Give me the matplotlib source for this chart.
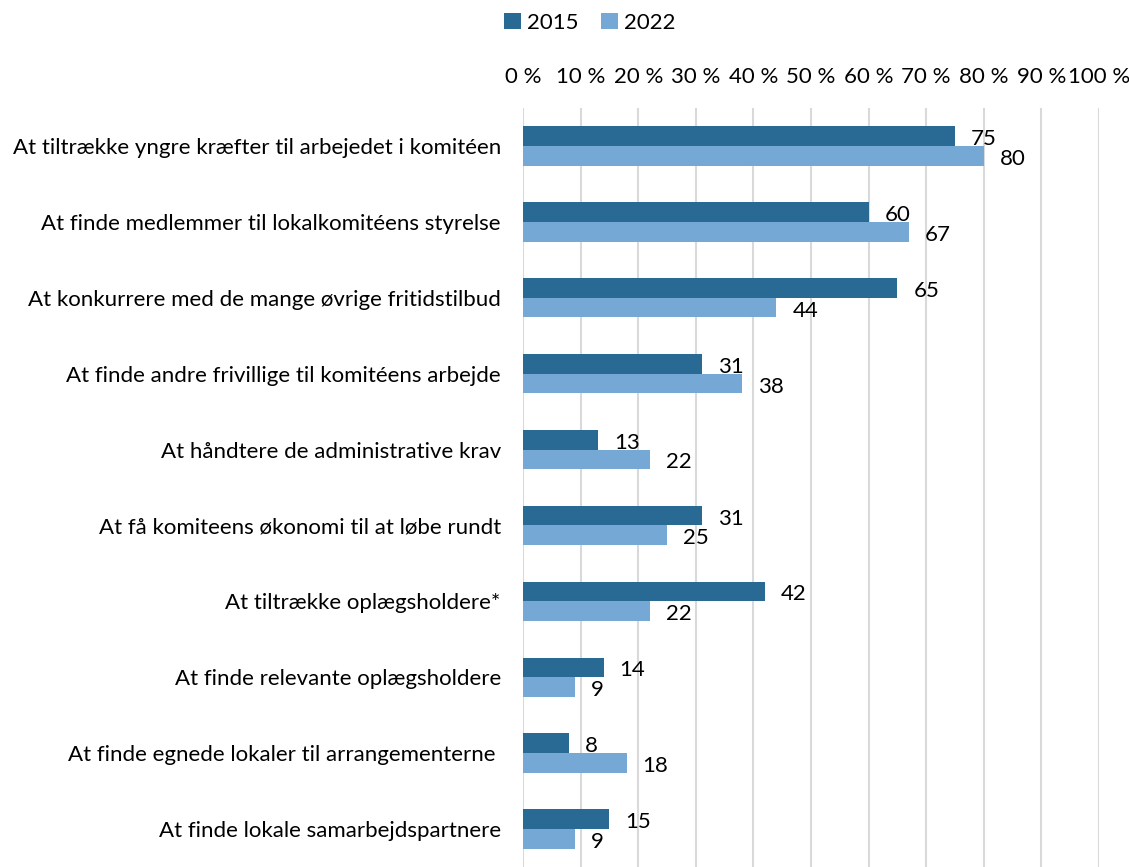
import matplotlib
matplotlib.use("Agg")
import matplotlib.pyplot as plt
import numpy as np
from matplotlib.ticker import FuncFormatter

plt.rcParams['font.family'] = ['Lato', 'DejaVu Sans']

categories = [
    "At tiltrække yngre kræfter til arbejedet i komitéen",
    "At finde medlemmer til lokalkomitéens styrelse",
    "At konkurrere med de mange øvrige fritidstilbud",
    "At finde andre frivillige til komitéens arbejde",
    "At håndtere de administrative krav",
    "At få komiteens økonomi til at løbe rundt",
    "At tiltrække oplægsholdere*",
    "At finde relevante oplægsholdere",
    "At finde egnede lokaler til arrangementerne ",
    "At finde lokale samarbejdspartnere",
]
values_2015 = [75, 60, 65, 31, 13, 31, 42, 14, 8, 15]
values_2022 = [80, 67, 44, 38, 22, 25, 22, 9, 18, 9]
series_names = ["2015", "2022"]
xticks = list(range(0, 101, 10))

c2015 = "#286A93"
c2022 = "#76A8D6"

fig = plt.figure(figsize=(11.29, 8.67), dpi=100)
ax = fig.add_axes([523/1129, 0, 576/1129, 759/867])

y = np.arange(len(categories))
h = 0.26
b1 = ax.barh(y - h/2, values_2015, height=h, color=c2015, label=series_names[0], zorder=3)
b2 = ax.barh(y + h/2, values_2022, height=h, color=c2022, label=series_names[1], zorder=3)

fs = 16
for bars, vals in ((b1, values_2015), (b2, values_2022)):
    for rect, v in zip(bars, vals):
        ax.annotate(str(v), (rect.get_width(), rect.get_y() + rect.get_height()/2),
                    xytext=(16, -3), textcoords="offset pixels",
                    ha="left", va="center", fontsize=fs, color="black")

ax.set_xlim(0, 100)
ax.set_ylim(len(categories) - 0.5, -0.5)
ax.set_xticks(xticks)
ax.xaxis.set_major_formatter(FuncFormatter(lambda v, p: f"{int(v)} %"))
ax.xaxis.tick_top()
ax.tick_params(axis='x', length=0, pad=15, labelsize=fs)
ax.tick_params(axis='y', length=0, pad=16, labelsize=fs)
ax.set_yticks(y)
ax.set_yticklabels(categories)
ax.grid(axis='x', color="#D9D9D9", linewidth=1.5, zorder=0)
for s in ax.spines.values():
    s.set_visible(False)

fig.legend(handles=[b1, b2], labels=series_names, loc="center", bbox_to_anchor=(590/1129, 1 - 23/867),
           ncol=2, frameon=False, fontsize=fs, handlelength=0.75, handleheight=0.75,
           handletextpad=0.3, columnspacing=1.0)

fig.savefig("out.png", dpi=100)
